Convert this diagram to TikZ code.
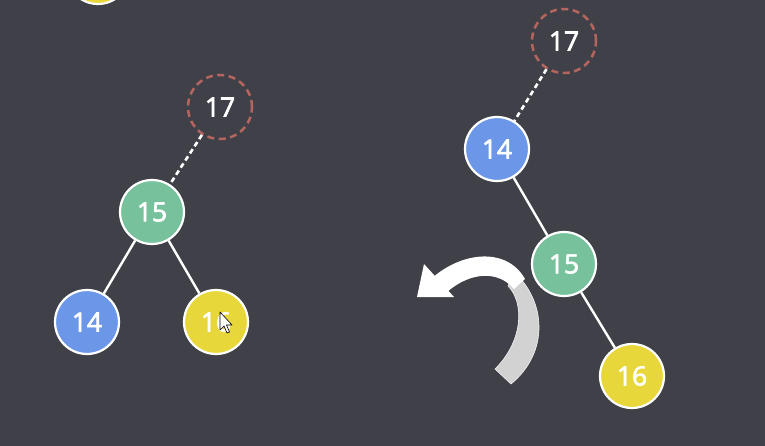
\documentclass[tikz,border=0pt]{standalone}
\usepackage{fontspec}
\newfontfamily\numfont{Open Sans}[FakeBold=2.5]
\definecolor{bg}{HTML}{404148}
\definecolor{nblue}{HTML}{6C97E8}
\definecolor{ngreen}{HTML}{77C29D}
\definecolor{nyellow}{HTML}{E8D73B}
\definecolor{ndash}{HTML}{B5655F}
\definecolor{ribbon}{HTML}{D2D2D2}
\tikzset{
  nd/.style={circle, minimum size=64pt, inner sep=0pt, draw=white, line width=2.2pt,
    text=white, font=\numfont\fontsize{26.5}{27}\selectfont},
  bnode/.style={nd, fill=nblue},
  gnode/.style={nd, fill=ngreen},
  ynode/.style={nd, fill=nyellow},
  dnode/.style={nd, draw=ndash, dash pattern=on 7pt off 4.5pt, line width=2.5pt},
  edge/.style={draw=white, line width=2.4pt},
  dedge/.style={draw=white, line width=2.6pt, dash pattern=on 5pt off 3.5pt},
}
\begin{document}
\begin{tikzpicture}[x=1pt,y=-1pt]
\fill[bg] (0,0) rectangle (765,446);
\useasboundingbox (0,0) rectangle (765,446);
% partial top-left node
\node[ynode] (top) at (98,-28) {};
% left tree
\node[dnode] (l17) at (220,107) {17};
\node[gnode] (l15) at (152,212) {15};
\node[bnode] (l14) at (87,322) {14};
\node[ynode] (l16) at (216,322) {16};
\draw[dedge] (l17) -- (l15);
\draw[edge] (l15) -- (l14);
\draw[edge] (l15) -- (l16);
% cursor
\draw[black, fill=white, line width=0.6pt, line join=round]
  (220,312) -- (220,330) -- (224,326) -- (227,333) -- (229.5,332) -- (226.5,325) -- (232,325) -- cycle;
% right tree
\node[dnode] (r17) at (564,41) {17};
\node[bnode] (r14) at (497,149) {14};
\node[gnode] (r15) at (564,264) {15};
\node[ynode] (r16) at (632,376) {16};
\draw[dedge] (r17) -- (r14);
\draw[edge] (r14) -- (r15);
\draw[edge] (r15) -- (r16);
% curved arrow
\fill[ribbon, draw=white!90!gray, line width=0.6pt]
  (513,271) .. controls (546,300) and (550,352) .. (511,384)
  -- (495,369) .. controls (524,340) and (524,302) .. (508,286) -- cycle;
\fill[white]
  (424,264) -- (417,297) -- (454,297) -- cycle;
\fill[white]
  (431,279) .. controls (462,251) and (507,247) .. (525,279)
  -- (514,289) .. controls (498,270) and (470,272) .. (447,292) -- cycle;
\end{tikzpicture}
\end{document}
